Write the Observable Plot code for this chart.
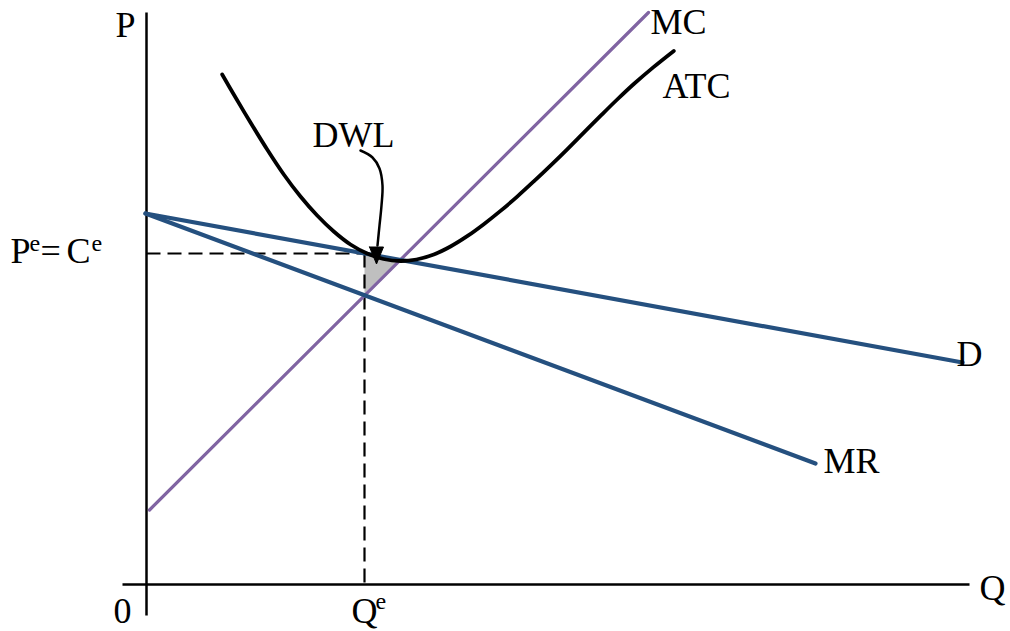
<!DOCTYPE html>
<html>
<head>
<meta charset="utf-8">
<script src="https://cdn.jsdelivr.net/npm/d3@7"></script>
<script src="https://cdn.jsdelivr.net/npm/@observablehq/plot@0.6"></script>
<style>
  html, body { margin: 0; padding: 0; background: #fff; }
  #chart svg { display: block; }
</style>
</head>
<body>
<div id="chart"></div>
<script>
// Units: Q (quantity) and P (price).
const axisLines = [
  {q1: 0, p1: -3.1, q2: 0, p2: 57.2},     // price axis
  {q1: -2.4, p1: 0, q2: 82.3, p2: 0}      // quantity axis
];
const mcCurve = [{q: 0.3, p: 7.45}, {q: 50.2, p: 57.2}];
const demand = [{q: -0.1, p: 37.1}, {q: 81.6, p: 22.2}];
const marginalRevenue = [{q: -0.1, p: 37.1}, {q: 66.9, p: 12.1}];
const atcCurve = [
  {q: 7.57, p: 51.0}, {q: 8.73, p: 49.0}, {q: 10.4, p: 46.2}, {q: 12.07, p: 43.5},
  {q: 13.73, p: 41.0}, {q: 15.4, p: 38.8}, {q: 17.07, p: 36.9}, {q: 18.73, p: 35.3},
  {q: 20.4, p: 34.0}, {q: 22.07, p: 33.1}, {q: 23.7, p: 32.55}, {q: 25.4, p: 32.35},
  {q: 27.0, p: 32.5}, {q: 28.73, p: 33.0}, {q: 30.4, p: 33.8}, {q: 32.07, p: 34.83},
  {q: 33.73, p: 36.03}, {q: 35.4, p: 37.36}, {q: 37.07, p: 38.79}, {q: 38.73, p: 40.31},
  {q: 40.4, p: 41.89}, {q: 42.07, p: 43.52}, {q: 43.73, p: 45.19}, {q: 45.4, p: 46.86},
  {q: 47.07, p: 48.5}, {q: 48.73, p: 50.05}, {q: 50.7, p: 51.74}, {q: 52.73, p: 53.36}
];
const Qe = 21.8, Pe = 33.1;
const dashedGuides = [
  {q1: 0, p1: Pe, q2: Qe, p2: Pe},
  {q1: Qe, p1: Pe, q2: Qe, p2: 0}
];
const dwlTriangle = [{q: 21.8, p: 33.1}, {q: 21.8, p: 29.1}, {q: 25.2, p: 32.45}, {q: 21.8, p: 33.1}];
const arrowPath = [
  {q: 21.4, p: 43.4}, {q: 22.6, p: 42.7}, {q: 23.3, p: 41.6}, {q: 23.6, p: 39.9},
  {q: 23.5, p: 37.9}, {q: 23.3, p: 35.9}, {q: 23.1, p: 33.9}
];
const arrowHead = [{q: 22.3, p: 33.75}, {q: 23.7, p: 33.75}, {q: 23.0, p: 32.05}, {q: 22.3, p: 33.75}];

const bigLabels = [
  {text: "P", q: -3.1, p: 54.8},
  {text: "Q", q: 83.3, p: -1.5},
  {text: "0", q: -3.3, p: -3.8},
  {text: "Q", q: 20.5, p: -3.8},
  {text: "P", q: -13.6, p: 32.2},
  {text: "=", q: -10.6, p: 32.2},
  {text: "C", q: -8.0, p: 32.2},
  {text: "MC", q: 50.4, p: 55.1},
  {text: "ATC", q: 51.6, p: 48.7},
  {text: "DWL", q: 16.6, p: 43.8},
  {text: "D", q: 81.0, p: 21.9},
  {text: "MR", q: 67.7, p: 11.2}
];
const superLabels = [
  {text: "e", q: 22.9, p: -2.45},
  {text: "e", q: -11.7, p: 33.4},
  {text: "e", q: -5.5, p: 33.4}
];

const blue = "#25507f";
const purple = "#8064a2";
const font = "'Liberation Serif', 'Times New Roman', serif";

const chart = Plot.plot({
  width: 1010,
  height: 631,
  style: {background: "#fff", fontFamily: font},
  x: {type: "linear", domain: [0, 86.4], range: [146, 1010], axis: null},
  y: {type: "linear", domain: [0, 58.4], range: [584, 0], axis: null},
  marks: [
    Plot.line(dwlTriangle, {x: "q", y: "p", fill: "#bfbfbf", stroke: "none"}),
    Plot.link(dashedGuides, {x1: "q1", y1: "p1", x2: "q2", y2: "p2", stroke: "black", strokeWidth: 2.2, strokeDasharray: "14,7"}),
    Plot.link(axisLines, {x1: "q1", y1: "p1", x2: "q2", y2: "p2", stroke: "black", strokeWidth: 2.5}),
    Plot.line(mcCurve, {x: "q", y: "p", stroke: purple, strokeWidth: 3.2}),
    Plot.line(demand, {x: "q", y: "p", stroke: blue, strokeWidth: 4.2}),
    Plot.line(marginalRevenue, {x: "q", y: "p", stroke: blue, strokeWidth: 4.2}),
    Plot.line(atcCurve, {x: "q", y: "p", stroke: "black", strokeWidth: 3.8, curve: "catmull-rom"}),
    Plot.line(arrowPath, {x: "q", y: "p", stroke: "black", strokeWidth: 2.5, curve: "catmull-rom"}),
    Plot.line(arrowHead, {x: "q", y: "p", fill: "black", stroke: "black", strokeWidth: 1}),
    Plot.text(bigLabels, {x: "q", y: "p", text: "text", textAnchor: "start", lineAnchor: "bottom", fontSize: 36, fill: "black", fontFamily: font}),
    Plot.text(superLabels, {x: "q", y: "p", text: "text", textAnchor: "start", lineAnchor: "bottom", fontSize: 24, fill: "black", fontFamily: font})
  ]
});
document.getElementById("chart").appendChild(chart);
</script>
</body>
</html>
